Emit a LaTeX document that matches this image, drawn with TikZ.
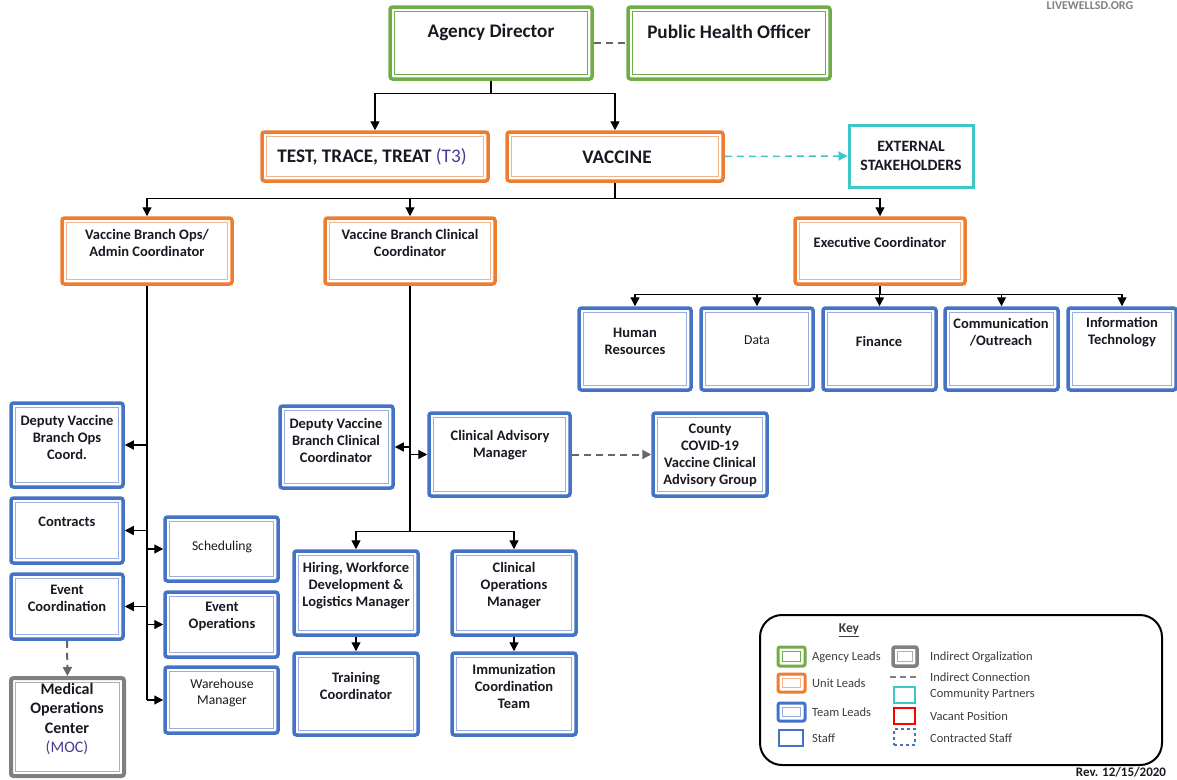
\documentclass[tikz,border=0pt]{standalone}
\usepackage{fontspec}
\setmainfont{Carlito}
\usetikzlibrary{arrows.meta,fit}

\definecolor{agreen}{RGB}{112,173,71}
\definecolor{agreenl}{RGB}{160,205,130}
\definecolor{uorange}{RGB}{237,125,49}
\definecolor{uorangel}{RGB}{245,180,135}
\definecolor{tblue}{RGB}{68,114,196}
\definecolor{tbluel}{RGB}{150,175,222}
\definecolor{cpcyan}{RGB}{60,200,200}
\definecolor{igray}{RGB}{128,128,128}
\definecolor{igrayl}{RGB}{175,175,175}
\definecolor{ink}{RGB}{25,25,35}
\definecolor{paren}{RGB}{70,60,150}
\definecolor{keyink}{RGB}{60,60,60}

\tikzset{
  x=1pt, y=-1pt,
  dbox/.style n args={3}{draw=#1, line width=#3, rounded corners=2.5pt, fill=white,
    inner sep=0pt,
    path picture={\draw[#2, line width=1.1pt, sharp corners]
      ([shift={(4.5pt,4.5pt)}]path picture bounding box.south west) rectangle
      ([shift={(-4.5pt,-4.5pt)}]path picture bounding box.north east);}},
  agency/.style={dbox={agreen}{agreen}{3.5pt}},
  unit/.style={dbox={uorange}{uorangel}{3.5pt}},
  team/.style={dbox={tblue}{tbluel}{3.5pt}},
  indirect/.style={dbox={igray}{igrayl}{4pt}},
  partner/.style={draw=cpcyan, line width=3pt, fill=white, inner sep=0pt},
  lbl/.style={font=\bfseries\fontsize{14.5}{17}\selectfont, text=ink, align=center, inner sep=0pt},
  lblr/.style={font=\fontsize{13.6}{16.5}\selectfont, text=ink, align=center, inner sep=0pt},
  big/.style={font=\bfseries\fontsize{19.2}{22}\selectfont, text=ink, inner sep=0pt},
  keytxt/.style={font=\fontsize{12.5}{15}\selectfont, text=keyink, anchor=west, inner sep=0pt},
  conn/.style={draw=black, line width=1.3pt},
  arr/.style={conn, -{Triangle[length=9pt,width=9pt]}},
  indirectline/.style={draw=igray!80!black, line width=2pt, dash pattern=on 7pt off 5pt},
  indirectarr/.style={indirectline, -{Triangle[length=9pt,width=9pt]}},
  partnerarr/.style={draw=cpcyan, line width=1.5pt, dash pattern=on 7pt off 5pt,
    -{Triangle[length=9pt,width=9pt]}},
}

\begin{document}
\begin{tikzpicture}
\useasboundingbox (0,0) rectangle (1177,779);

% ---------- top level ----------
\node[agency, fit={(390,7) (592,79)}] (ad) {};
\node[agency, fit={(628,7) (830,79)}] (pho) {};
\node[big] (t-ad) at (491,32) {Agency Director};
\node[big] (t-pho) at (729,32) {Public Health Officer};

\node[unit, fit={(262,132) (488,181)}] (t3) {};
\node[unit, fit={(507,132) (723,181)}] (vac) {};
\node[partner, fit={(849,125) (973,187)}] (ext) {};
\node[big] (t-t3) at (372,157)
  {TEST, TRACE, TREAT \textcolor{paren}{\mdseries(T3)}};
\node[big] (t-vac) at (617,157) {VACCINE};
\node[lbl, font=\bfseries\fontsize{15.8}{19}\selectfont] (t-ext) at (911,156) {EXTERNAL\\STAKEHOLDERS};

% ---------- branch coordinators ----------
\node[unit, fit={(62,218) (232,284)}] (ops) {};
\node[unit, fit={(325,218) (495,284)}] (clin) {};
\node[unit, fit={(795,218) (965,284)}] (exec) {};
\node[lbl] (t-ops) at (147,243) {Vaccine Branch Ops/\\Admin Coordinator};
\node[lbl] (t-clin) at (410,243) {Vaccine Branch Clinical\\Coordinator};
\node[lbl] (t-exec) at (880,242) {Executive Coordinator};

% ---------- executive staff ----------
\node[team, fit={(579,308) (691,390)}] (hr) {};
\node[team, fit={(701,308) (813,390)}] (data) {};
\node[team, fit={(823,308) (936,390)}] (fin) {};
\node[team, fit={(945,308) (1058,390)}] (comm) {};
\node[team, fit={(1068,308) (1176,390)}] (it) {};
\node[lbl] (t-hr) at (635,341) {Human\\Resources};
\node[lblr] (t-data) at (757,340) {Data};
\node[lbl] (t-fin) at (879,341) {Finance};
\node[lbl] (t-comm) at (1001,332) {Communication\\/Outreach};
\node[lbl] (t-it) at (1122,332) {Information\\Technology};

% ---------- ops branch ----------
\node[team, fit={(11,403) (123,487)}] (dvo) {};
\node[team, fit={(11,498) (123,563)}] (con) {};
\node[team, fit={(11,574) (123,639)}] (ec) {};
\node[team, fit={(165,517) (278,581)}] (sch) {};
\node[team, fit={(165,592) (278,657)}] (eo) {};
\node[team, fit={(165,667) (278,733)}] (wh) {};
\node[indirect, fit={(11,678) (124,776)}] (moc) {};
\node[lbl] (t-dvo) at (67,437) {Deputy Vaccine\\Branch Ops\\Coord.};
\node[lbl] (t-con) at (67,522) {Contracts};
\node[lbl] (t-ec) at (67,598) {Event\\Coordination};
\node[lblr] (t-sch) at (222,547) {Scheduling};
\node[lbl] (t-eo) at (222,616) {Event\\Operations};
\node[lblr] (t-wh) at (222,693) {Warehouse\\Manager};
\node[lbl, font=\bfseries\fontsize{16}{19.5}\selectfont] (t-moc) at (67,719)
  {Medical\\Operations\\Center\\\textcolor{paren}{\mdseries(MOC)}};

% ---------- clinical branch ----------
\node[team, fit={(280,406) (393,488)}] (dvc) {};
\node[team, fit={(429,413) (570,496)}] (cam) {};
\node[team, fit={(653,413) (767,496)}] (cty) {};
\node[team, fit={(294,551) (418,635)}] (hw) {};
\node[team, fit={(452,551) (576,635)}] (cop) {};
\node[team, fit={(294,653) (418,735)}] (tc) {};
\node[team, fit={(452,653) (576,735)}] (ict) {};
\node[lbl] (t-dvc) at (336,440) {Deputy Vaccine\\Branch Clinical\\Coordinator};
\node[lbl] (t-cam) at (500,445) {Clinical Advisory\\Manager};
\node[lbl] (t-cty) at (710,455) {County\\COVID-19\\Vaccine Clinical\\Advisory Group};
\node[lbl] (t-hw) at (356,586) {Hiring, Workforce\\Development \&\\Logistics Manager};
\node[lbl] (t-cop) at (514,586) {Clinical\\Operations\\Manager};
\node[lbl] (t-tc) at (356,686) {Training\\Coordinator};
\node[lbl] (t-ict) at (514,686) {Immunization\\Coordination\\Team};

% ---------- connectors ----------
\draw[indirectline] (ad.east) -- (pho.west);
\draw[conn] (ad.south) -- ++(0,13) coordinate (adbus);
\draw[arr] (adbus) -| (t3.north);
\draw[arr] (adbus) -| (vac.north);
\draw[partnerarr] (vac.east) -- (ext.west);

\draw[conn] (vac.south) -- ++(0,16) coordinate (vbus);
\draw[arr] (vbus) -| (ops.north);
\draw[arr] (vbus) -| (clin.north);
\draw[arr] (vbus) -| (exec.north);

\draw[conn] (exec.south) -- ++(0,9) coordinate (ebus);
\foreach \n in {hr,data,fin,comm,it} \draw[arr] (ebus) -| (\n.north);

\draw[conn] (ops.south) -- (ops.south |- wh.west);
\foreach \n in {dvo,con,ec} \draw[arr] (ops.south |- \n.east) -- (\n.east);
\foreach \n in {sch,eo,wh} \draw[arr] (ops.south |- \n.west) -- (\n.west);
\draw[indirectarr] (ec.south) -- (moc.north);

\draw[conn] (clin.south) -- ++(0,246) coordinate (cbus);
\draw[arr] (clin.south |- dvc.east) -- (dvc.east);
\draw[arr] (clin.south |- cam.west) -- (cam.west);
\draw[indirectarr] (cam.east) -- (cty.west);
\draw[arr] (cbus) -| (hw.north);
\draw[arr] (cbus) -| (cop.north);
\draw[arr] (hw.south) -- (tc.north);
\draw[arr] (cop.south) -- (ict.north);

% ---------- key ----------
\node[draw=black, line width=2pt, rounded corners=22pt, inner sep=0pt,
  fit={(760,615) (1162,765)}] (key) {};
\node[font=\bfseries\fontsize{13.5}{15}\selectfont, text=keyink, inner sep=0pt] (k-title) at (849,630) {\underline{Key}};

\node[agency, line width=3pt, rounded corners=2pt, fit={(778,647) (805,666)}] (k-ag) {};
\node[unit, line width=3pt, rounded corners=2pt, fit={(778,674) (805,692)}] (k-un) {};
\node[team, line width=3pt, rounded corners=2pt, fit={(778,703) (805,721)}] (k-tm) {};
\node[draw=tblue, line width=2pt, inner sep=0pt, fit={(779,730) (803,746)}] (k-st) {};
\node[indirect, line width=3.5pt, rounded corners=2pt, fit={(893,647) (917,666)}] (k-io) {};
\coordinate (k-dl) at (890,677);
\coordinate (k-dr) at (920,677);
\draw[draw=igray, line width=2pt, dash pattern=on 6pt off 4pt] (k-dl) -- (k-dr);
\node[draw=cpcyan, line width=1.5pt, inner sep=0pt, fit={(894,687) (915,703)}] (k-cp) {};
\node[draw=red, line width=2pt, inner sep=0pt, fit={(894,708) (915,724)}] (k-vp) {};
\node[draw=tblue, line width=1.8pt, dash pattern=on 3pt off 3pt, inner sep=0pt, fit={(894,729) (915,745)}] (k-cs) {};

\node[keytxt] (kt-ag) at (812,657) {Agency Leads};
\node[keytxt] (kt-un) at (812,683) {Unit Leads};
\node[keytxt] (kt-tm) at (812,712) {Team Leads};
\node[keytxt] (kt-st) at (812,738) {Staff};
\node[keytxt] (kt-io) at (930,657) {Indirect Orgalization};
\node[keytxt] (kt-ic) at (930,677) {Indirect Connection};
\node[keytxt] (kt-cp) at (930,694) {Community Partners};
\node[keytxt] (kt-vp) at (930,716) {Vacant Position};
\node[keytxt] (kt-cs) at (930,738) {Contracted Staff};

% ---------- footer / header notes ----------
\node[font=\bfseries\fontsize{13}{15}\selectfont, text=ink, inner sep=0pt] (rev) at (1121,772) {Rev. 12/15/2020};
\node[font=\bfseries\fontsize{12}{14}\selectfont, text=gray, inner sep=0pt] (site) at (1090,6) {LIVEWELLSD.ORG};
\end{tikzpicture}
\end{document}
